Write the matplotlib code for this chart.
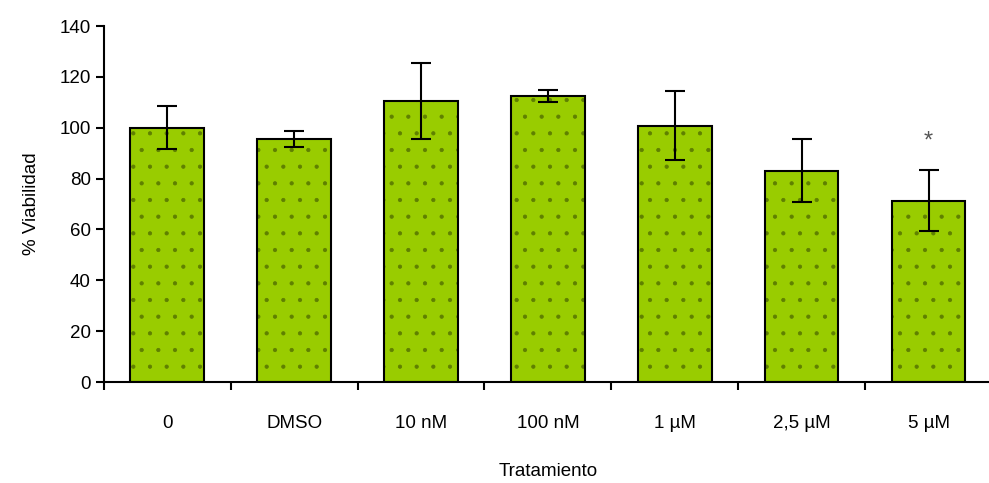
import matplotlib
matplotlib.use("Agg")
import matplotlib.pyplot as plt
import numpy as np

categories = ["0", "DMSO", "10 nM", "100 nM", "1 µM", "2,5 µM", "5 µM"]
viability = [100, 95.6, 110.5, 112.5, 100.8, 83.1, 71.4]
errors = [8.5, 3.2, 15.0, 2.5, 13.5, 12.3, 12.0]
significant = [False, False, False, False, False, False, True]

plt.rcParams["font.family"] = ["Liberation Sans", "DejaVu Sans"]
plt.rcParams["hatch.linewidth"] = 0.6

fig = plt.figure(figsize=(9.89, 4.83), dpi=100)
ax = fig.add_axes([0.105, 0.209, 0.898, 0.737])

x = np.arange(len(categories))
# fill + dotted hatch (hatch takes the edge colour), then black outline on top
ax.bar(x, viability, width=0.58, color="#99cc00", edgecolor="#5f8000", linewidth=0,
       hatch=".", zorder=2)
ax.bar(x, viability, width=0.58, fill=False, edgecolor="black", linewidth=1.5, zorder=2)
ax.errorbar(x, viability, yerr=errors, fmt="none", ecolor="black", elinewidth=1.5,
            capsize=7, capthick=1.5, zorder=3)
for xi, v, e, s in zip(x, viability, errors, significant):
    if s:
        ax.text(xi, v + e + 7, "*", ha="center", va="bottom", fontsize=17, color="#555555")

ax.set_xlim(-0.5, len(categories) - 0.5)
ax.set_ylim(0, 140)
ax.set_yticks(np.arange(0, 141, 20))
ax.set_xticks(x)
ax.set_xticklabels(categories)
ax.set_xticks(np.arange(-0.5, len(categories), 1), minor=True)
ax.tick_params(axis="x", which="major", length=0, pad=24, labelsize=13.5)
ax.tick_params(axis="x", which="minor", length=6, width=1.5, direction="out")
ax.tick_params(axis="y", length=6, width=1.5, direction="out", labelsize=13.5)

for side in ["top", "right"]:
    ax.spines[side].set_visible(False)
for side in ["left", "bottom"]:
    ax.spines[side].set_linewidth(1.5)

ax.set_ylabel("% Viabilidad", fontsize=13.5, labelpad=14)
ax.set_xlabel("Tratamiento", fontsize=13.5, labelpad=22)

fig.savefig("out.png", dpi=100, facecolor="white")
